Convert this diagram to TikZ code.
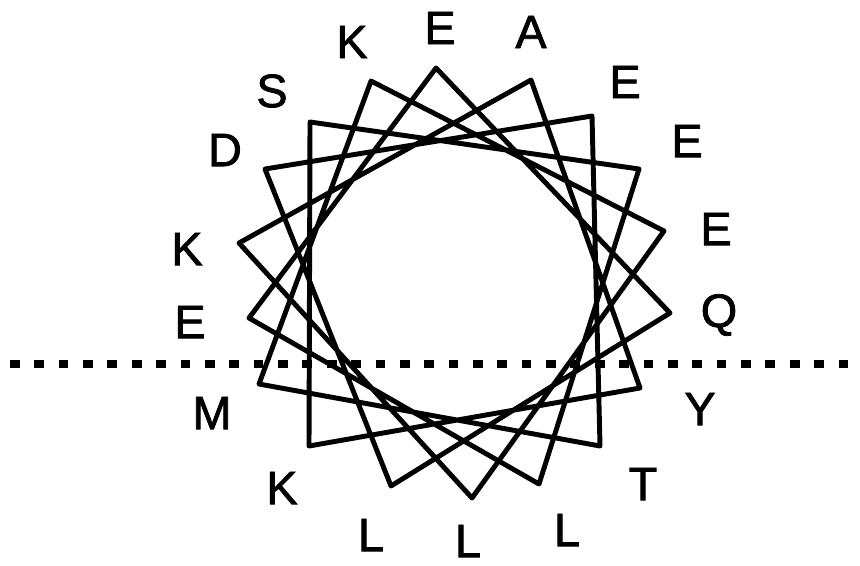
\documentclass[tikz,border=0pt]{standalone}
\usepackage{fontspec}
\setmainfont{Liberation Sans}
\newfontfamily\resfont{Liberation Sans}[FakeBold=1.6]
\usepackage{tikz}
\tikzset{
  res/.style={font=\fontsize{40}{48}\resfont, inner sep=0pt, text=black},
  wheel/.style={draw=black, line width=4.2pt, line join=round},
  surface/.style={draw=black, line width=6pt, dash pattern=on 8.3pt off 12.5pt},
}

\begin{document}
\begin{tikzpicture}[x=0.3mm,y=-0.3mm]
  \useasboundingbox (0,0) rectangle (860,565);
  % wheel corners, clockwise from the top
  \foreach \i/\x/\y in {1/436/68,2/531/80,3/592/116,4/639/169,5/664/231,6/670/313,7/640/388,
    8/600/446,9/539/484,10/472/498,11/391/486,12/309/446,13/259/384,14/249/318,
    15/239/243,16/265/169,17/310/122,18/371/81}{
    \coordinate (v\i) at (\x,\y);
  }
  \draw[wheel] (v1) -- (v6) -- (v11) -- (v16) -- (v3) -- (v8) -- (v13) -- (v18) -- (v5)
    -- (v10) -- (v15) -- (v2) -- (v7) -- (v12) -- (v17) -- (v4) -- (v9) -- (v14) -- cycle;
  % residues
  \foreach \i/\x/\y/\t in {1/440/28/E,2/531/32/A,3/625/82/E,4/687/141/E,5/716/229/E,
    6/719/315/Q,7/700/409/Y,8/643/484/T,9/567/530/L,10/468/541/L,11/371/535/L,
    12/282/488/K,13/212/413/M,14/190/322/E,15/187/249/K,16/225/150/D,17/272/91/S,18/352/42/K}{
    \node[res] (r\i) at (\x,\y) {\selectfont\t};
  }
  % membrane surface
  \coordinate (sl) at (10,364);
  \coordinate (sr) at (862,364);
  \draw[surface] (sl) -- (sr);
\end{tikzpicture}
\end{document}
